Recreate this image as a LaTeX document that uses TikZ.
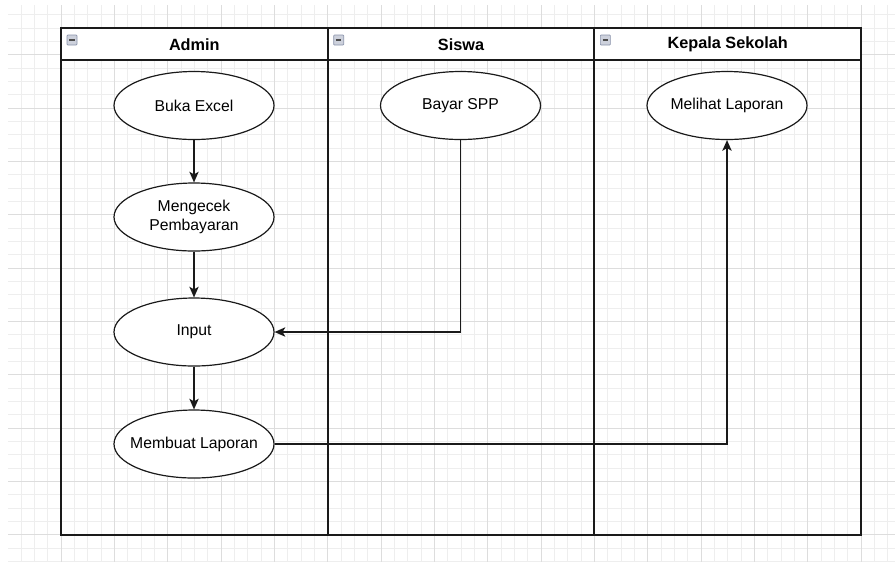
\documentclass[tikz,border=0pt]{standalone}
\usepackage{fontspec}
\setmainfont{Liberation Sans}
\usetikzlibrary{arrows.meta,calc,shapes.geometric}
\definecolor{gridminor}{HTML}{EEEEEE}
\definecolor{gridmajor}{HTML}{DDDDDD}
\definecolor{lineink}{HTML}{1A1A1A}
\definecolor{iconfill}{HTML}{CDD1DC}
\definecolor{iconedge}{HTML}{8A93AB}
\tikzset{
  px/.style={x=0.75pt,y=-0.75pt},
  pool/.style={draw=lineink,line width=1.3pt},
  lanehead/.style={font=\fontsize{12.2}{14}\selectfont\bfseries,text=black},
  % fixed-size ellipse; the caption sits in a centred label so it never resizes the shape
  activity/.style={ellipse,draw=lineink,line width=0.9pt,fill=white,
    minimum width=120pt,minimum height=51pt,inner sep=0pt,
    label={[align=center,font=\fontsize{11.8}{14}\selectfont,inner sep=0pt]center:#1}},
  flow/.style={draw=lineink,line width=1.1pt,-{Stealth[length=8pt,width=7pt,inset=2pt]}},
  foldicon/.style={draw=iconedge,fill=iconfill,line width=0.5pt,rounded corners=0.6pt},
}
\begin{document}
\begin{tikzpicture}[px]
  \useasboundingbox (0,0) rectangle (895,562);
  \fill[white] (0,0) rectangle (895,562);
  % background grid
  \begin{scope}
    \clip (8,5) rectangle (895,562);
    \foreach \i in {0,...,67} {
      \pgfmathsetmacro{\gx}{7.67+13.333*\i}
      \draw[gridminor,line width=0.6pt] (\gx,5) -- (\gx,562);
    }
    \foreach \j in {0,...,42} {
      \pgfmathsetmacro{\gy}{1.33+13.333*\j}
      \draw[gridminor,line width=0.6pt] (8,\gy) -- (895,\gy);
    }
    \foreach \i in {0,...,17} {
      \pgfmathsetmacro{\gx}{7.67+53.333*\i}
      \draw[gridmajor,line width=0.7pt] (\gx,5) -- (\gx,562);
    }
    \foreach \j in {0,...,10} {
      \pgfmathsetmacro{\gy}{1.33+53.333*\j}
      \draw[gridmajor,line width=0.7pt] (8,\gy) -- (895,\gy);
    }
  \end{scope}

  % pool with three lanes
  \fill[white] (61,28) rectangle (861,60);
  \draw[pool] (61,28) rectangle (861,535);
  \draw[pool] (61,60) -- (861,60);
  \draw[pool] (327.67,28) -- (327.67,535);
  \draw[pool] (594.33,28) -- (594.33,535);

  % lane headers
  \node[lanehead] (hadmin) at (194.3,44.5) {Admin};
  \node[lanehead] (hsiswa) at (461,44.5) {Siswa};
  \node[lanehead] (hkepala) at (727.7,44.5) {Kepala Sekolah};
  \foreach \ox in {67,333.67,600.33} {
    \draw[foldicon] (\ox,35) rectangle ++(10,10);
    \draw[black!70,line width=1.3pt] (\ox+2.2,40) -- (\ox+7.8,40);
  }

  % activities
  \node[activity={Buka Excel}] (buka) at (194,105.5) {};
  \node[activity={Mengecek\\Pembayaran}] (cek) at (194,217) {};
  \node[activity={Input}] (input) at (194,332) {};
  \node[activity={Membuat Laporan}] (laporan) at (194,444) {};
  \node[activity={Bayar SPP}] (bayar) at (460.5,105.5) {};
  \node[activity={Melihat Laporan}] (lihat) at (727,105.5) {};

  % connectors
  \draw[flow] (buka) -- (cek);
  \draw[flow] (cek) -- (input);
  \draw[flow] (input) -- (laporan);
  \draw[flow] (bayar.south) |- (input.east);
  \draw[flow] (laporan.east) -| (lihat.south);
\end{tikzpicture}
\end{document}
